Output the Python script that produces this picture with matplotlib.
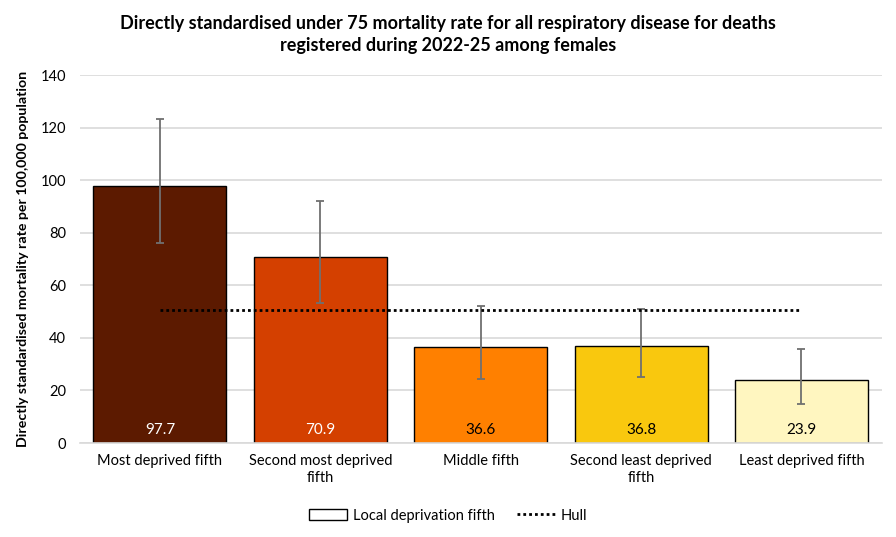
import numpy as np
import matplotlib.pyplot as plt
from matplotlib.patches import Patch
from matplotlib.lines import Line2D

plt.rcParams['font.family'] = ['Lato', 'DejaVu Sans']

# data
categories = ["Most deprived fifth", "Second most deprived\nfifth", "Middle fifth",
              "Second least deprived\nfifth", "Least deprived fifth"]
rates = [97.7, 70.9, 36.6, 36.8, 23.9]
lower_ci = [76.1, 53.3, 24.5, 25.2, 14.9]
upper_ci = [123.5, 92.0, 52.2, 51.1, 35.7]
hull_rate = 50.6

colours = ["#5C1A00", "#D44000", "#FF8000", "#F9C80E", "#FFF6C0"]
label_colours = ["white", "white", "black", "black", "black"]

dots = (0, (1, 1.1))

fig = plt.figure(figsize=(8.96, 5.37), dpi=100)
ax = fig.add_axes([0.089, 0.175, 0.895, 0.685])

x = np.arange(len(categories))
ax.bar(x, rates, width=0.83, color=colours, edgecolor="black", linewidth=1.0, zorder=2)

yerr = [np.array(rates) - np.array(lower_ci), np.array(upper_ci) - np.array(rates)]
ax.errorbar(x, rates, yerr=yerr, fmt="none", ecolor="#707070", elinewidth=1.3,
            capsize=3, capthick=1.3, zorder=3)

ax.plot([x[0], x[-1]], [hull_rate, hull_rate], color="black", linestyle=dots,
        linewidth=2.0, zorder=4)

for i in range(len(rates)):
    ax.text(x[i], 5, f"{rates[i]:.1f}", ha="center", va="center", fontsize=11,
            color=label_colours[i], zorder=5)

ax.set_xlim(-0.5, len(categories) - 0.5)
ax.set_ylim(0, 140)
ax.set_yticks(np.arange(0, 141, 20))
ax.set_xticks(x)
ax.set_xticklabels(categories, fontsize=10.5, linespacing=1.3)
ax.tick_params(axis="both", length=0, labelsize=10.5, colors="black")
ax.tick_params(axis="x", pad=8)
ax.tick_params(axis="y", pad=10)
ax.grid(axis="y", color="#D9D9D9", linewidth=1.2, zorder=0)
ax.set_axisbelow(True)
for s in ["top", "right", "left"]:
    ax.spines[s].set_visible(False)
ax.spines["bottom"].set_color("#D9D9D9")
ax.spines["bottom"].set_linewidth(1.2)

ax.set_ylabel("Directly standardised mortality rate per 100,000 population",
              fontsize=10.2, fontweight="bold", labelpad=8)

fig.text(0.5, 0.935, "Directly standardised under 75 mortality rate for all respiratory disease for deaths\nregistered during 2022-25 among females",
         ha="center", va="center", fontsize=13, fontweight="bold", linespacing=1.35)

handles = [Patch(facecolor="white", edgecolor="black", linewidth=1.0),
           Line2D([0], [0], color="black", linestyle=dots, linewidth=2.0)]
fig.legend(handles, ["Local deprivation fifth", "Hull"], loc="center",
           bbox_to_anchor=(0.5, 0.04), ncol=2, frameon=False, fontsize=10.5,
           handlelength=2.6, handletextpad=0.4, columnspacing=1.5)

fig.savefig("out.png", dpi=100)
